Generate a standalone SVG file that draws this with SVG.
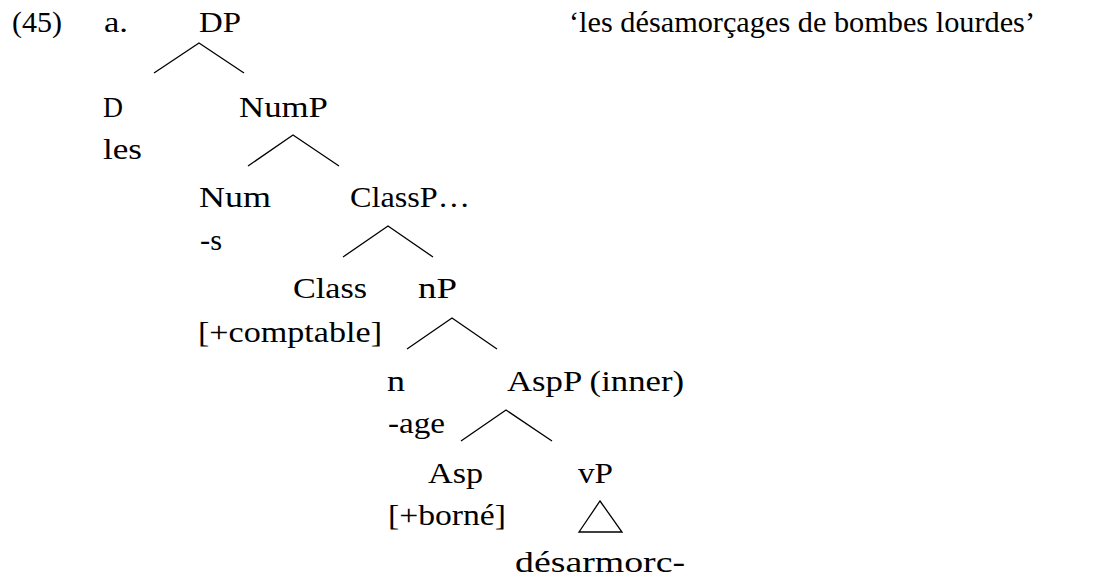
<svg xmlns="http://www.w3.org/2000/svg" width="1117" height="581" viewBox="0 0 1117 581">
<style>
.edge{fill:none;stroke:#000;stroke-width:1.3;stroke-linejoin:miter}
</style>
<rect width="1117" height="581" fill="#fff"/>
<g font-size="29" fill="#000">
<g id="example-number">
<text font-family="Liberation Serif" x="12" y="32" textLength="50" lengthAdjust="spacingAndGlyphs">(45)</text>
<text font-family="Liberation Serif" x="104" y="32" textLength="24" lengthAdjust="spacingAndGlyphs">a.</text>
</g>
<g id="gloss">
<text font-family="Liberation Serif" x="569" y="32" textLength="466" lengthAdjust="spacingAndGlyphs">‘les désamorçages de bombes lourdes’</text>
</g>
<g id="node-DP">
<text font-family="Liberation Serif" x="199" y="32" textLength="42" lengthAdjust="spacingAndGlyphs">DP</text>
</g>
<g id="node-D">
<text font-family="Liberation Serif" x="103" y="117" textLength="20" lengthAdjust="spacingAndGlyphs">D</text>
<text font-family="Liberation Serif" x="103" y="159" textLength="39" lengthAdjust="spacingAndGlyphs">les</text>
</g>
<g id="node-NumP">
<text font-family="Liberation Serif" x="239" y="117" textLength="89" lengthAdjust="spacingAndGlyphs">NumP</text>
</g>
<g id="node-Num">
<text font-family="Liberation Serif" x="199" y="207" textLength="72" lengthAdjust="spacingAndGlyphs">Num</text>
<text font-family="Liberation Serif" x="200" y="250" textLength="22" lengthAdjust="spacingAndGlyphs">-s</text>
</g>
<g id="node-ClassP">
<text font-family="Liberation Serif" x="350" y="207" textLength="120" lengthAdjust="spacingAndGlyphs">ClassP…</text>
</g>
<g id="node-Class">
<text font-family="Liberation Serif" x="293" y="298" textLength="74" lengthAdjust="spacingAndGlyphs">Class</text>
<text font-family="Liberation Serif" x="198" y="342" textLength="184" lengthAdjust="spacingAndGlyphs">[+comptable]</text>
</g>
<g id="node-nP">
<text font-family="Liberation Serif" x="418" y="298" textLength="39" lengthAdjust="spacingAndGlyphs">nP</text>
</g>
<g id="node-n">
<text font-family="Liberation Serif" x="387" y="391" textLength="18" lengthAdjust="spacingAndGlyphs">n</text>
<text font-family="Liberation Serif" x="388" y="433" textLength="57" lengthAdjust="spacingAndGlyphs">-age</text>
</g>
<g id="node-AspP">
<text font-family="Liberation Serif" x="507" y="391" textLength="177" lengthAdjust="spacingAndGlyphs">AspP (inner)</text>
</g>
<g id="node-Asp">
<text font-family="Liberation Serif" x="428" y="483" textLength="55" lengthAdjust="spacingAndGlyphs">Asp</text>
<text font-family="Liberation Serif" x="388" y="525" textLength="118" lengthAdjust="spacingAndGlyphs">[+borné]</text>
</g>
<g id="node-vP">
<text font-family="Liberation Serif" x="578" y="483" textLength="35" lengthAdjust="spacingAndGlyphs">vP</text>
<text font-family="Liberation Serif" x="515" y="572" textLength="170" lengthAdjust="spacingAndGlyphs">désarmorc-</text>
</g>
</g>
<g id="connectors">
<path class="edge" d="M154,73 L199,43 L244,73"/>
<path class="edge" d="M248,166 L293,135 L339,166"/>
<path class="edge" d="M343,257 L388,226 L433,257"/>
<path class="edge" d="M407,349 L452,318 L497,349"/>
<path class="edge" d="M461,441 L506,410 L552,441"/>
<path class="edge" d="M579,532 L600,501 L622,532 Z"/>
</g>
</svg>
